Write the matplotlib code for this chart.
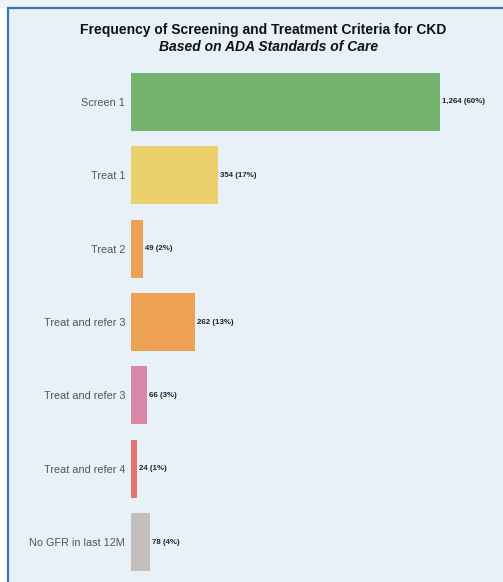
import matplotlib
matplotlib.use("Agg")
import matplotlib.pyplot as plt
from matplotlib.patches import Rectangle

plt.rcParams['font.family'] = ['Liberation Sans', 'DejaVu Sans']

# data
categories = ["Screen 1", "Treat 1", "Treat 2", "Treat and refer 3",
              "Treat and refer 3", "Treat and refer 4", "No GFR in last 12M"]
counts = [1264, 354, 49, 262, 66, 24, 78]
percents = [60, 17, 2, 13, 3, 1, 4]
colors = ["#74b26f", "#ebd06c", "#eda153", "#eda153", "#d888a4", "#e47373", "#c4bebc"]

W, H = 503, 582
fig = plt.figure(figsize=(W / 100, H / 100), dpi=100)
fig.patch.set_facecolor("white")

# top strip and panel with blue border
fig.patches.append(Rectangle((0, 1 - 8 / H), 1, 8 / H, transform=fig.transFigure,
                             facecolor="#eef3f7", edgecolor="none", zorder=-2))
fig.patches.append(Rectangle((8 / W, -0.05), 1.1, 1.05 - 8 / H, transform=fig.transFigure,
                             facecolor="#e8f0f8", edgecolor="#3f75ae", linewidth=1.6, zorder=-1))

# axes placed in pixel coords: x from 131 to 490, y from 65 to 579
ax = fig.add_axes([131 / W, 1 - 579 / H, (490 - 131) / W, (579 - 65) / H])
ax.set_facecolor("none")
ax.set_zorder(2)

ypos = list(range(len(categories)))
ax.barh(ypos, counts, height=0.79, color=colors)
for y, c, p in zip(ypos, counts, percents):
    ax.text(c + 8, y, f"{c:,} ({p}%)", va="center", ha="left",
            fontsize=5.7, fontweight="bold", color="#222222")

ax.set_xlim(0, (490 - 131) / 0.2445)
ax.set_ylim(len(categories) - 0.5, -0.5)
ax.set_yticks(ypos)
ax.set_yticklabels(categories, fontsize=7.8, color="#555555")
ax.tick_params(axis="y", length=0, pad=4.3)
ax.set_xticks([])
for s in ax.spines.values():
    s.set_visible(False)

fig.text(263 / W, 1 - 30 / H, "Frequency of Screening and Treatment Criteria for CKD",
         ha="center", va="center", fontsize=10, fontweight="bold", color="#111111")
fig.text(269 / W, 1 - 47 / H, "Based on ADA Standards of Care",
         ha="center", va="center", fontsize=10, fontweight="bold", style="italic",
         color="#111111")

fig.savefig("out.png", dpi=100, facecolor=fig.get_facecolor())
